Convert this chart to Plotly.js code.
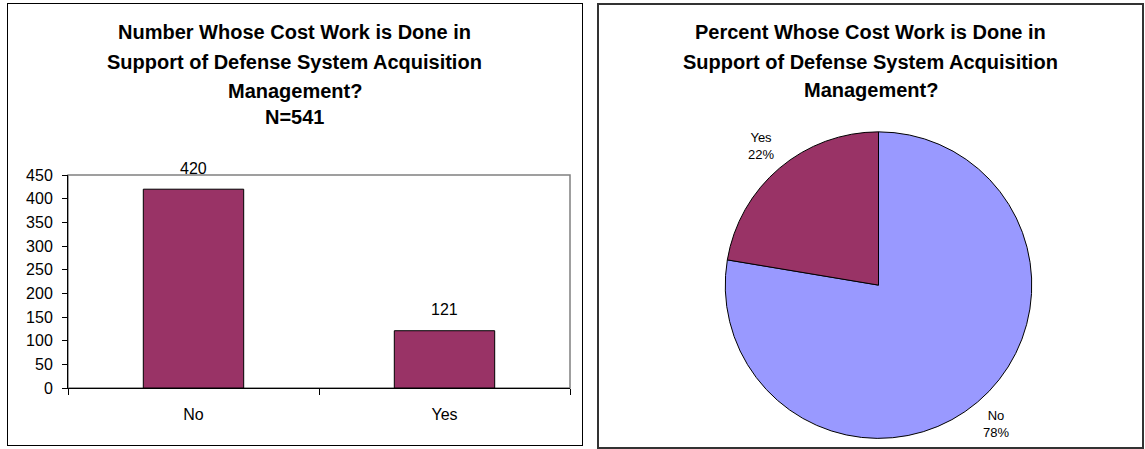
<!DOCTYPE html>
<html>
<head>
<meta charset="utf-8">
<script src="https://cdn.plot.ly/plotly-3.0.1.min.js"></script>
<style>
  html, body { margin: 0; padding: 0; background: #ffffff; width: 1145px; height: 449px; overflow: hidden; }
  #left { position: absolute; left: 7px; top: 3px; width: 576px; height: 443px; box-sizing: border-box; border: 1px solid #000; }
  #right { position: absolute; left: 597px; top: 3px; width: 547px; height: 446px; box-sizing: border-box; border: 2px solid #333; }
</style>
</head>
<body>
<div id="left"></div>
<div id="right"></div>
<script>
// ---- data ----
const categories = ["No", "Yes"];
const counts = [420, 121];
const barTitleLines = ["Number Whose Cost Work is Done in", "Support of Defense System Acquisition", "Management?", "N=541"];
const pieTitleLines = ["Percent Whose Cost Work is Done in", "Support of Defense System Acquisition", "Management?"];
const yTicks = [0, 50, 100, 150, 200, 250, 300, 350, 400, 450];

const FONT = "Liberation Sans, Arial, sans-serif";
const MAROON = "#993366";
const PERI = "#9999FF";
const TITLE_SIZE = 20;

// ---- left: bar chart ----
const barTitleY = [1.671, 1.531, 1.394, 1.272];
const barAnn = barTitleLines.map((t, i) => ({
  text: "<b>" + t + "</b>", xref: "paper", yref: "paper", x: 0.4512, y: barTitleY[i],
  xanchor: "center", yanchor: "middle", showarrow: false,
  font: {family: FONT, size: TITLE_SIZE, color: "#000"}
})).concat(categories.map((c, i) => ({
  text: String(counts[i]), xref: "x", yref: "y", x: c, y: counts[i],
  xanchor: "center", yanchor: "middle", yshift: 21, showarrow: false,
  font: {family: FONT, size: 16, color: "#000"}
})));

Plotly.newPlot("left", [{
  type: "bar", x: categories, y: counts,
  marker: {color: MAROON, line: {color: "#000", width: 1}},
  hoverinfo: "none"
}], {
  width: 574, height: 441,
  margin: {l: 60, r: 12, t: 171, b: 57},
  paper_bgcolor: "#fff", plot_bgcolor: "#fff",
  showlegend: false, bargap: 0.6,
  font: {family: FONT, size: 16, color: "#000"},
  xaxis: {
    type: "category", showgrid: false, zeroline: false,
    showline: true, linecolor: "#000", linewidth: 1,
    ticks: "outside", tickson: "boundaries", ticklen: 6, tickcolor: "#000",
    ticklabelstandoff: 12,
    tickfont: {family: FONT, size: 16, color: "#000"}
  },
  yaxis: {
    range: [0, 450], tickvals: yTicks, showgrid: false, zeroline: false,
    showline: true, linecolor: "#000", linewidth: 1,
    ticks: "outside", ticklen: 5, tickcolor: "#000",
    ticklabelstandoff: 6,
    tickfont: {family: FONT, size: 16, color: "#000"}
  },
  shapes: [{
    type: "rect", xref: "x domain", yref: "y domain", x0: 0, x1: 1, y0: 0, y1: 1,
    line: {color: "#808080", width: 1.5}, layer: "below"
  }],
  annotations: barAnn
}, {staticPlot: true, displayModeBar: false});

// ---- right: pie chart ----
const RW = 543, RH = 442;
const pieDomX = [0.2325, 0.797], pieDomY = [0.0193, 0.7132];
const pieTitleY = [0.9388, 0.8707, 0.8073];
const pieAnn = pieTitleLines.map((t, i) => ({
  text: "<b>" + t + "</b>", xref: "paper", yref: "paper", x: 0.5, y: pieTitleY[i],
  xanchor: "center", yanchor: "middle", showarrow: false,
  font: {family: FONT, size: TITLE_SIZE, color: "#000"}
}));
// slice labels placed radially outside the mid-angle of each slice (from the data)
const total = counts.reduce((a, b) => a + b, 0);
const cxP = (pieDomX[0] + pieDomX[1]) / 2, cyP = (pieDomY[0] + pieDomY[1]) / 2;
const Rpx = Math.min((pieDomX[1] - pieDomX[0]) * RW, (pieDomY[1] - pieDomY[0]) * RH) / 2;
let cum = 0;
categories.forEach((c, i) => {
  const frac = counts[i] / total;
  const mid = (cum + frac / 2) * 2 * Math.PI; // clockwise from 12 o'clock
  cum += frac;
  const r = Rpx * 1.19;
  pieAnn.push({
    text: c + "<br>" + Math.round(frac * 100) + "%",
    xref: "paper", yref: "paper",
    x: cxP + Math.sin(mid) * r / RW, y: cyP + Math.cos(mid) * r / RH,
    xanchor: "center", yanchor: "middle", showarrow: false,
    font: {family: FONT, size: 13, color: "#000"}
  });
});

Plotly.newPlot("right", [{
  type: "pie", labels: categories, values: counts,
  sort: false, direction: "clockwise", rotation: 0,
  marker: {colors: [PERI, MAROON], line: {color: "#000", width: 1}},
  textinfo: "none",
  domain: {x: pieDomX, y: pieDomY},
  hoverinfo: "none"
}], {
  width: RW, height: RH,
  margin: {l: 0, r: 0, t: 0, b: 0},
  paper_bgcolor: "#fff",
  showlegend: false,
  font: {family: FONT, size: 13, color: "#000"},
  annotations: pieAnn
}, {staticPlot: true, displayModeBar: false});
</script>
</body>
</html>
